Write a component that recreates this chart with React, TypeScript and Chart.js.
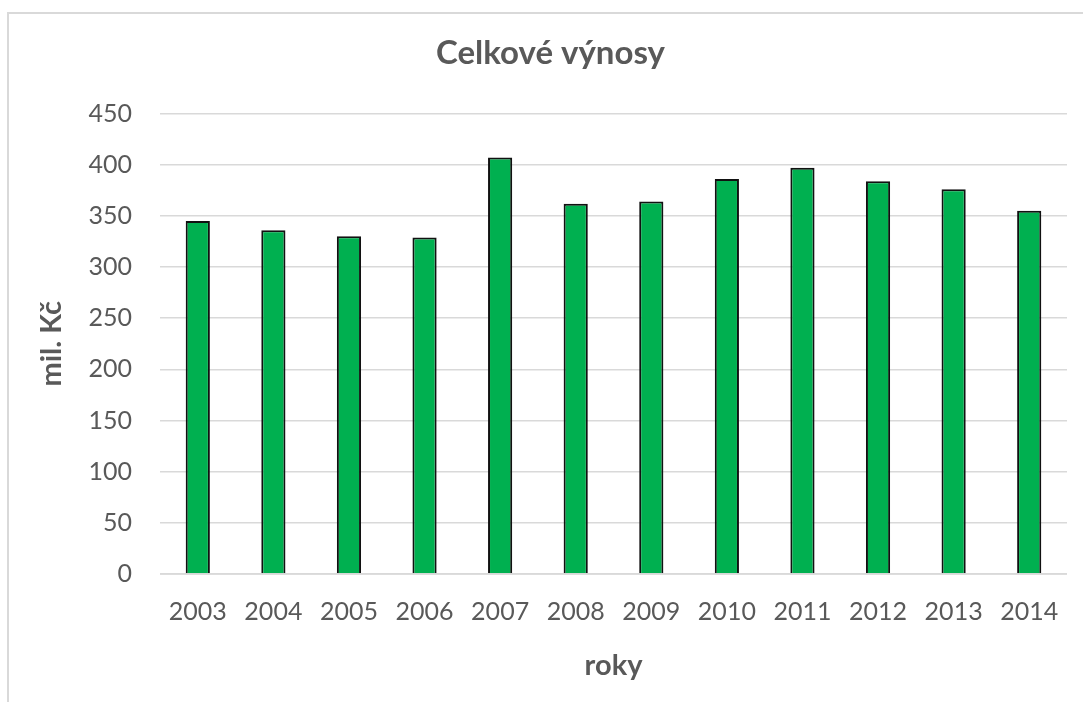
import React, { useEffect, useRef } from "react";
import { Chart, registerables } from "chart.js";

Chart.register(...registerables);

const years = ["2003", "2004", "2005", "2006", "2007", "2008", "2009", "2010", "2011", "2012", "2013", "2014"];
const revenues = [345, 336, 330, 329, 407, 362, 364, 386, 397, 384, 376, 355];
const chartTitle = "Celkové výnosy";
const yTitle = "mil. Kč";
const xTitle = "roky";

const FONT = "Lato, 'Open Sans', sans-serif";
const GRAY = "#595959";
const GRID = "#d9d9d9";

const zeroLinePlugin = {
  id: "zeroLine",
  afterDatasetsDraw(chart: any) {
    const { ctx, chartArea, scales } = chart;
    const y = scales.y.getPixelForValue(0);
    ctx.save();
    ctx.strokeStyle = GRID;
    ctx.lineWidth = 1.5;
    ctx.beginPath();
    ctx.moveTo(chartArea.left, y);
    ctx.lineTo(chartArea.right, y);
    ctx.stroke();
    ctx.restore();
  },
};

export default function App() {
  const ref = useRef<HTMLCanvasElement | null>(null);

  useEffect(() => {
    if (!ref.current) return;
    const chart = new Chart(ref.current, {
      type: "bar",
      data: {
        labels: years,
        datasets: [
          {
            data: revenues,
            backgroundColor: "#00b050",
            borderColor: "#111111",
            borderWidth: 2,
            categoryPercentage: 1,
            barPercentage: 0.32,
          },
        ],
      },
      plugins: [zeroLinePlugin],
      options: {
        responsive: false,
        animation: false,
        layout: { padding: { left: 34, right: 16, top: 0, bottom: 0 } },
        plugins: {
          legend: { display: false },
          tooltip: { enabled: false },
          title: {
            display: true,
            text: chartTitle,
            color: GRAY,
            font: { family: FONT, size: 33, weight: "bold" },
            padding: { top: 34, bottom: 40 },
          },
        },
        scales: {
          x: {
            grid: { display: false, drawTicks: false },
            border: { display: false },
            ticks: {
              color: GRAY,
              font: { family: FONT, size: 25 },
              padding: 23,
              maxRotation: 0,
            },
            title: {
              display: true,
              text: xTitle,
              color: GRAY,
              font: { family: FONT, size: 29, weight: "bold" },
              padding: 19,
            },
            afterFit(scale: any) {
              scale.height = 128;
            },
          },
          y: {
            min: 0,
            max: 450,
            grid: { color: GRID, lineWidth: 1.5, drawTicks: false },
            border: { display: false },
            ticks: {
              stepSize: 50,
              color: GRAY,
              font: { family: FONT, size: 25 },
              padding: 28,
            },
            title: {
              display: true,
              text: yTitle,
              color: GRAY,
              font: { family: FONT, size: 29, weight: "bold" },
              padding: 0,
            },
            afterFit(scale: any) {
              scale.width = 126;
            },
          },
        },
      },
    } as any);
    return () => chart.destroy();
  }, []);

  return (
    <>
      <div
        style={{
          position: "fixed",
          left: 7,
          top: 12,
          width: 1200,
          height: 800,
          borderLeft: "2px solid #d9d9d9",
          borderTop: "2px solid #d9d9d9",
          boxSizing: "border-box",
        }}
      />
      <canvas
        ref={ref}
        width={1083}
        height={702}
        style={{ position: "fixed", left: 0, top: 0, display: "block" }}
      />
    </>
  );
}
